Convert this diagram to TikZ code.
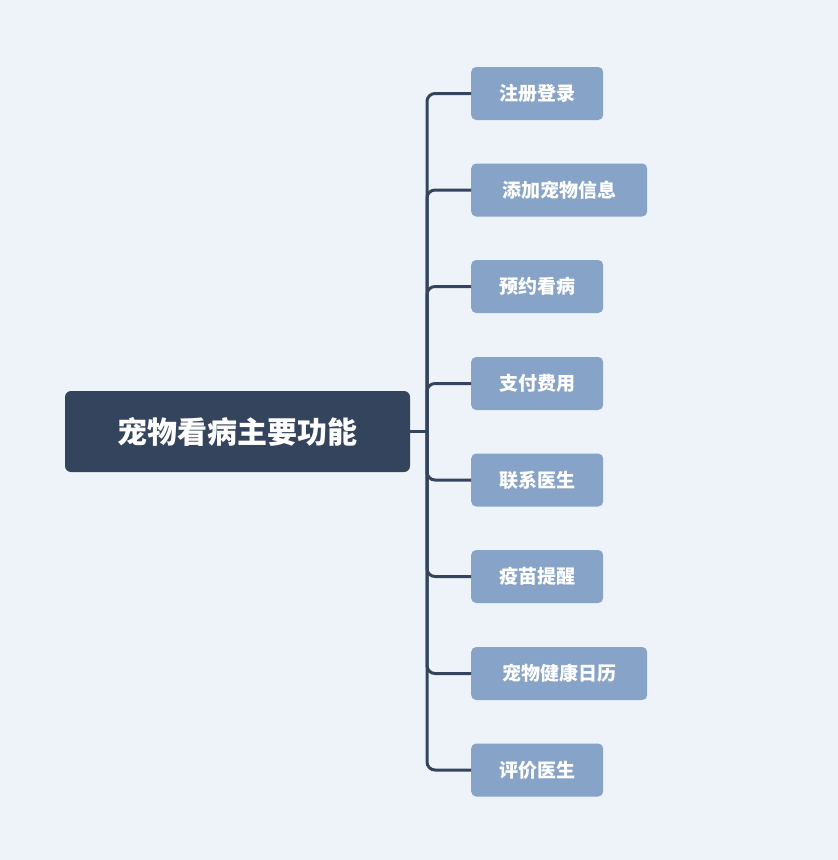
\documentclass[tikz,border=0pt]{standalone}
\usepackage{fontspec}
\newfontfamily\cjk{Noto Sans CJK SC}
\definecolor{bg}{HTML}{EDF3F9}
\definecolor{dark}{HTML}{34445C}
\definecolor{leaf}{HTML}{87A3C8}
\begin{document}
\begin{tikzpicture}[x=1pt,y=-1pt,
  rootbox/.style={fill=dark,rounded corners=6pt,text=white,font=\cjk\bfseries\fontsize{30}{34}\selectfont,minimum width=345pt,minimum height=81pt,inner sep=0},
  leafbox/.style={fill=leaf,rounded corners=5pt,text=white,font=\cjk\bfseries\fontsize{19}{22}\selectfont,minimum height=53pt,inner sep=0,anchor=west},
  link/.style={draw=dark,line width=3pt,rounded corners=8pt}]
\fill[bg] (0,0) rectangle (838,860);
\useasboundingbox (0,0) rectangle (838,860);
\node[rootbox] (root) at (237.5,431.5) {宠物看病主要功能};
\node[leafbox,minimum width=132pt] (c1) at (471,93.5) {注册登录};
\node[leafbox,minimum width=176pt] (c2) at (471,190) {添加宠物信息};
\node[leafbox,minimum width=132pt] (c3) at (471,286.5) {预约看病};
\node[leafbox,minimum width=132pt] (c4) at (471,383.5) {支付费用};
\node[leafbox,minimum width=132pt] (c5) at (471,480) {联系医生};
\node[leafbox,minimum width=132pt] (c6) at (471,576.5) {疫苗提醒};
\node[leafbox,minimum width=176pt] (c7) at (471,673.5) {宠物健康日历};
\node[leafbox,minimum width=132pt] (c8) at (471,770) {评价医生};
\coordinate (j) at (427,431.5);
\draw[link] (root.east) -- (j);
\foreach \c in {c1,c2,c3,c4,c5,c6,c7,c8}{
  \draw[link] (j) |- (\c.west);
}
\end{tikzpicture}
\end{document}
